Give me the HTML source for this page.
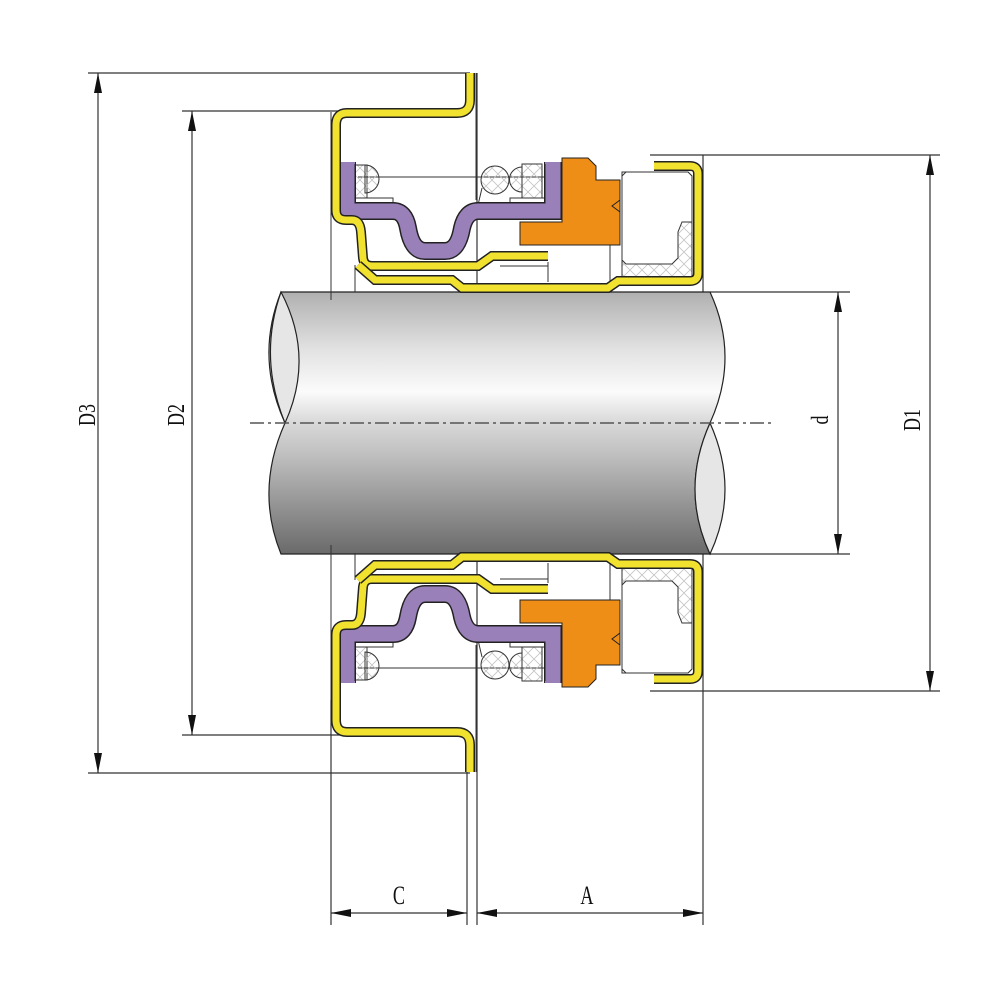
<!DOCTYPE html>
<html><head><meta charset="utf-8"><style>
html,body{margin:0;padding:0;background:#fff;}
svg{display:block;}
text{font-family:"Liberation Serif",serif;fill:#111;}
</style></head><body>
<svg width="1000" height="1000" viewBox="0 0 1000 1000" xmlns="http://www.w3.org/2000/svg">
<defs>
<linearGradient id="sh" x1="0" y1="0" x2="0" y2="1">
<stop offset="0" stop-color="#b0b0b0"/>
<stop offset="0.22" stop-color="#e2e2e2"/>
<stop offset="0.38" stop-color="#fbfbfb"/>
<stop offset="0.5" stop-color="#d8d8d8"/>
<stop offset="0.6" stop-color="#c4c4c4"/>
<stop offset="1" stop-color="#6a6a6a"/>
</linearGradient>
<pattern id="hx" width="12" height="12" patternUnits="userSpaceOnUse">
<path d="M0,12 L12,0 M0,0 L12,12" stroke="#c4c4c4" stroke-width="0.8"/>
</pattern>
<g id="half">
  <line x1="358" y1="177" x2="548" y2="177" stroke="#333" stroke-width="1"/>
  <line x1="476" y1="73" x2="476" y2="200" stroke="#333" stroke-width="1"/>
  <line x1="331" y1="112" x2="331" y2="300" stroke="#333" stroke-width="1"/>
  <line x1="355" y1="265" x2="355" y2="292" stroke="#333" stroke-width="1"/>
  <line x1="610" y1="245" x2="610" y2="282" stroke="#333" stroke-width="1"/>
  <line x1="548" y1="262" x2="548" y2="282" stroke="#333" stroke-width="1"/>
  <line x1="500" y1="266" x2="548" y2="266" stroke="#333" stroke-width="1"/>
  <rect x="355" y="165" width="12" height="33" fill="url(#hx)" stroke="#333" stroke-width="1"/>
  <rect x="355" y="198" width="38" height="8" fill="#fff" stroke="#333" stroke-width="1"/>
  <path d="M365,165 A14,14 0 0 1 365,193 Z" fill="url(#hx)" stroke="#333" stroke-width="1"/>
  <circle cx="495" cy="180" r="14" fill="url(#hx)" stroke="#333" stroke-width="1"/>
  <path d="M522,167 A12,12 0 0 0 522,192" fill="url(#hx)" stroke="#333" stroke-width="1"/>
  <rect x="522" y="164" width="20" height="34" fill="url(#hx)" stroke="#333" stroke-width="1"/>
  <rect x="510" y="198" width="35" height="8" fill="#fff" stroke="#333" stroke-width="1"/>
  <line x1="482" y1="188" x2="478" y2="205" stroke="#333" stroke-width="1"/>
  <path d="M347,162 V211 H393 Q405,211 408,228 Q412,251 425,251 H445 Q458,251 462,228 Q466,211 478,211 H553 V162" fill="none" stroke="#222" stroke-width="18"/>
  <path d="M347,162 V211 H393 Q405,211 408,228 Q412,251 425,251 H445 Q458,251 462,228 Q466,211 478,211 H553 V162" fill="none" stroke="#9a80b8" stroke-width="15"/>
  <rect x="340" y="162" width="15" height="2" fill="#9a80b8"/>
  <rect x="545" y="162" width="15" height="2" fill="#9a80b8"/>
  <path d="M562,158 H588 L596,166 V180 H620 V245 H520 V222 H562 Z" fill="#ee8e17" stroke="#222" stroke-width="1"/>
  <path d="M620,200 L612,206 L620,212" fill="none" stroke="#222" stroke-width="1"/>
  <path d="M622,172 H688 L692,176 V280 H622 Z" fill="url(#hx)" stroke="#333" stroke-width="1"/>
  <path d="M622,176 L626,172 H688 L692,176 V222 H682 L678,232 V258 L672,264 H626 L622,260 Z" fill="#fff" stroke="#333" stroke-width="1"/>
  <path d="M470,73 V100 Q470,113 457,113 H347 Q336,113 336,125 V210 Q336,220 346,220 H352 Q360,220 361,232 L363,258 Q364,266 372,266 H478 L492,256 H548" fill="none" stroke="#222" stroke-width="10"/>
  <path d="M470,73 V100 Q470,113 457,113 H347 Q336,113 336,125 V210 Q336,220 346,220 H352 Q360,220 361,232 L363,258 Q364,266 372,266 H478 L492,256 H548" fill="none" stroke="#f2e230" stroke-width="7"/>
  <path d="M358,265 L375,280 H452 L462,288 H608 L618,281 H690 Q698,281 698,273 V174 Q698,166 690,166 H654" fill="none" stroke="#222" stroke-width="10"/>
  <path d="M358,265 L375,280 H452 L462,288 H608 L618,281 H690 Q698,281 698,273 V174 Q698,166 690,166 H654" fill="none" stroke="#f2e230" stroke-width="7"/>
</g>
</defs>

<g stroke="#333" stroke-width="1.2" fill="none">
<line x1="88" y1="73" x2="470" y2="73"/>
<line x1="88" y1="773" x2="470" y2="773"/>
<line x1="98" y1="73" x2="98" y2="773"/>
<line x1="182" y1="111" x2="340" y2="111"/>
<line x1="182" y1="735" x2="340" y2="735"/>
<line x1="192" y1="111" x2="192" y2="735"/>
<line x1="650" y1="155" x2="940" y2="155"/>
<line x1="650" y1="691" x2="940" y2="691"/>
<line x1="930" y1="155" x2="930" y2="691"/>
<line x1="710" y1="292" x2="850" y2="292"/>
<line x1="710" y1="554" x2="850" y2="554"/>
<line x1="838" y1="292" x2="838" y2="554"/>
<line x1="703" y1="155" x2="703" y2="925"/>
<line x1="331" y1="700" x2="331" y2="925"/>
<line x1="467" y1="760" x2="467" y2="925"/>
<line x1="477" y1="73" x2="477" y2="925"/>
<line x1="331" y1="913" x2="467" y2="913"/>
<line x1="477" y1="913" x2="703" y2="913"/>
</g>
<g fill="#111">
<path d="M98,73 L94,93 L102,93 Z"/><path d="M98,773 L94,753 L102,753 Z"/>
<path d="M192,111 L188,131 L196,131 Z"/><path d="M192,735 L188,715 L196,715 Z"/>
<path d="M930,155 L926,175 L934,175 Z"/><path d="M930,691 L926,671 L934,671 Z"/>
<path d="M838,292 L834,312 L842,312 Z"/><path d="M838,554 L834,534 L842,534 Z"/>
<path d="M331,913 L351,909 L351,917 Z"/><path d="M467,913 L447,909 L447,917 Z"/>
<path d="M477,913 L497,909 L497,917 Z"/><path d="M703,913 L683,909 L683,917 Z"/>
</g>

<path d="M281,292 H710 Q740,357 710,423 Q680,490 710,554 H281 Q255,490 285,423 Q255,357 281,292 Z" fill="url(#sh)" stroke="#222" stroke-width="1.2"/>
<path d="M281,292 Q315,357 285,423 Q258,357 281,292 Z" fill="#e6e6e6" stroke="#222" stroke-width="1.2"/>
<path d="M710,423 Q740,490 710,554 Q680,490 710,423 Z" fill="#e6e6e6" stroke="#222" stroke-width="1.2"/>
<line x1="250" y1="423" x2="772" y2="423" stroke="#555" stroke-width="1.5" stroke-dasharray="14,4,3,4"/>

<use href="#half"/>
<use href="#half" transform="translate(0,845) scale(1,-1)"/>

<text x="0" y="0" font-size="24" transform="translate(95,415) rotate(-90) scale(0.75,1)" text-anchor="middle">D3</text>
<text x="0" y="0" font-size="24" transform="translate(184,415) rotate(-90) scale(0.75,1)" text-anchor="middle">D2</text>
<text x="0" y="0" font-size="24" transform="translate(828,420) rotate(-90) scale(0.75,1)" text-anchor="middle">d</text>
<text x="0" y="0" font-size="24" transform="translate(920,420) rotate(-90) scale(0.75,1)" text-anchor="middle">D1</text>
<text x="0" y="0" font-size="26" transform="translate(399,904) scale(0.7,1)" text-anchor="middle">C</text>
<text x="0" y="0" font-size="26" transform="translate(587,904) scale(0.7,1)" text-anchor="middle">A</text>
</svg>
</body></html>
